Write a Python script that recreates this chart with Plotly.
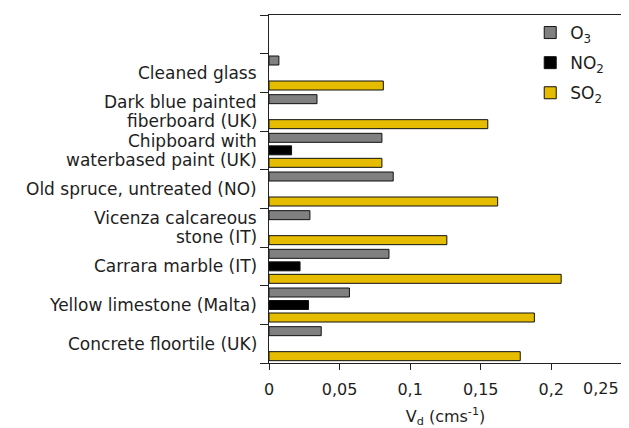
import plotly.graph_objects as go

categories = [
    "Cleaned glass",
    "Dark blue painted<br>fiberboard (UK)",
    "Chipboard with<br>waterbased paint (UK)",
    "Old spruce, untreated (NO)",
    "Vicenza calcareous<br>stone (IT)",
    "Carrara marble (IT)",
    "Yellow limestone (Malta)",
    "Concrete floortile (UK)",
]
o3 = [0.007, 0.034, 0.080, 0.088, 0.029, 0.085, 0.057, 0.037]
no2 = [None, None, 0.016, None, None, 0.022, 0.028, None]
so2 = [0.081, 0.155, 0.080, 0.162, 0.126, 0.207, 0.188, 0.178]

x_tick_vals = [0, 0.05, 0.1, 0.15, 0.2, 0.25]
x_tick_text = ["0", "0,05", "0,1", "0,15", "0,2", "0,25"]

pos = list(range(len(categories)))
boundaries = [p - 0.5 for p in range(-1, len(categories) + 1)]

series = [
    ("O<sub>3</sub>", o3, "#808080"),
    ("NO<sub>2</sub>", no2, "#000000"),
    ("SO<sub>2</sub>", so2, "#E6BC00"),
]

TXT = "#1e1e1e"
AX = "#222222"
font_family = "DejaVu Sans"

fig = go.Figure()
for name, vals, col in series:
    fig.add_trace(go.Bar(
        x=vals, y=pos, orientation="h", name=name, legendgroup=name,
        marker=dict(color=col, line=dict(color="#111111", width=1)),
    ))

annotations = []
# category labels, one text per line so the line spacing stays tight
line_gap = 19.6
for p, label in zip(pos, categories):
    lines = label.split("<br>")
    n = len(lines)
    for j, ln in enumerate(lines):
        annotations.append(dict(
            text=ln, xref="paper", x=0, xanchor="right", xshift=-10,
            yref="y", y=p, yanchor="middle",
            yshift=((n - 1) / 2 - j) * line_gap,
            showarrow=False, font=dict(size=17, color=TXT, family=font_family),
        ))
# last x tick label sits flush with the right end of the axis
annotations.append(dict(
    text=x_tick_text[-1], xref="x", x=x_tick_vals[-1], xanchor="right", xshift=-1,
    yref="paper", y=0, yanchor="middle", yshift=-25,
    showarrow=False, font=dict(size=16, color=TXT, family=font_family),
))

# the page body adds an 8 px offset, so the figure is 8 px smaller than the window
fig.update_layout(
    width=621, height=420,
    margin=dict(l=261, r=7, t=7, b=65, autoexpand=False),
    paper_bgcolor="white", plot_bgcolor="white",
    barmode="group", bargap=0.03, bargroupgap=0.28,
    font=dict(family=font_family, color=TXT, size=16),
    showlegend=True,
    legend=dict(
        x=0.74, y=1.0, xanchor="left", yanchor="top",
        bgcolor="rgba(0,0,0,0)", font=dict(size=17),
        traceorder="grouped", tracegroupgap=5,
    ),
    annotations=annotations,
    xaxis=dict(
        range=[0, 0.2501], tickvals=x_tick_vals, ticktext=x_tick_text[:-1] + [""],
        ticks="outside", ticklen=6, tickcolor=AX, tickwidth=1.3,
        showline=True, linecolor=AX, linewidth=1.3, mirror=True,
        showgrid=False, zeroline=False, automargin=False,
        tickfont=dict(size=16), ticklabelstandoff=6,
        title=dict(text="V<sub>d</sub> (cms<sup>-1</sup>)", font=dict(size=16), standoff=15),
    ),
    yaxis=dict(
        range=[len(categories) - 0.5, -1.5],
        tickvals=pos, showticklabels=False, ticks="",
        minor=dict(tickvals=boundaries, ticks="outside", ticklen=8,
                   tickcolor=AX, tickwidth=1.3, showgrid=False),
        showline=True, linecolor=AX, linewidth=1.3, mirror=True,
        showgrid=False, zeroline=False, automargin=False,
    ),
)

fig.write_html("out.html")
